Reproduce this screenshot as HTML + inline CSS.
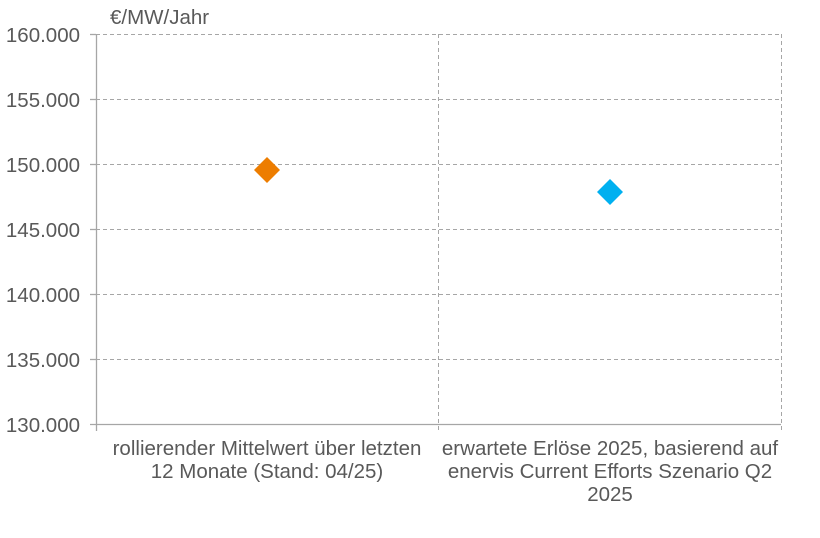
<!DOCTYPE html>
<html><head><meta charset="utf-8"><style>
body{margin:0;background:#fff;}
svg text{font-family:"Liberation Sans",sans-serif;fill:#595959;}
</style></head><body>
<svg width="820" height="533" viewBox="0 0 820 533" xmlns="http://www.w3.org/2000/svg">
<g stroke="#a6a6a6" stroke-width="1" stroke-dasharray="4,3" fill="none">
<line x1="96" y1="34.5" x2="781" y2="34.5"/>
<line x1="96" y1="99.5" x2="781" y2="99.5"/>
<line x1="96" y1="164.5" x2="781" y2="164.5"/>
<line x1="96" y1="229.5" x2="781" y2="229.5"/>
<line x1="96" y1="294.5" x2="781" y2="294.5"/>
<line x1="96" y1="359.5" x2="781" y2="359.5"/>
<line x1="438.5" y1="34" x2="438.5" y2="431"/>
<line x1="781.5" y1="34" x2="781.5" y2="431"/>
</g>
<g stroke="#a6a6a6" stroke-width="1.3">
<line x1="96.5" y1="34" x2="96.5" y2="431"/>
<line x1="90" y1="424.5" x2="781" y2="424.5"/>
<line x1="90" y1="34.5" x2="96" y2="34.5"/>
<line x1="90" y1="99.5" x2="96" y2="99.5"/>
<line x1="90" y1="164.5" x2="96" y2="164.5"/>
<line x1="90" y1="229.5" x2="96" y2="229.5"/>
<line x1="90" y1="294.5" x2="96" y2="294.5"/>
<line x1="90" y1="359.5" x2="96" y2="359.5"/>
</g>
<g font-size="20.5" text-anchor="end">
<text x="80" y="42">160.000</text>
<text x="80" y="107">155.000</text>
<text x="80" y="172">150.000</text>
<text x="80" y="237">145.000</text>
<text x="80" y="302">140.000</text>
<text x="80" y="367">135.000</text>
<text x="80" y="432">130.000</text>
</g>
<text x="110" y="24" font-size="20.5">€/MW/Jahr</text>
<g font-size="20.5" text-anchor="middle">
<text x="267" y="455">rollierender Mittelwert über letzten</text>
<text x="267" y="478">12 Monate (Stand: 04/25)</text>
<text x="610" y="455">erwartete Erlöse 2025, basierend auf</text>
<text x="610" y="478">enervis Current Efforts Szenario Q2</text>
<text x="610" y="501">2025</text>
</g>
<polygon points="267,157 280,170 267,183 254,170" fill="#ed7d00"/>
<polygon points="610,179 623,192 610,205 597,192" fill="#00b0f0"/>
</svg>
</body></html>
